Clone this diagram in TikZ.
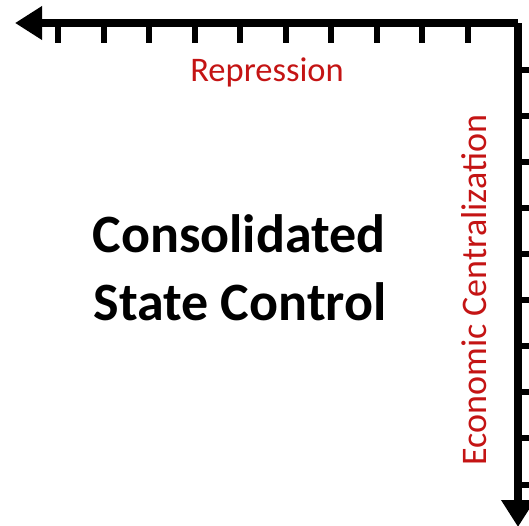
\documentclass[tikz,border=0pt]{standalone}
\usepackage{fontspec}
\setmainfont{Carlito}
\usetikzlibrary{arrows.meta}
\definecolor{axred}{RGB}{196,20,20}
\tikzset{
  axis/.style={line width=8pt, line join=miter, -{Triangle[length=27pt,width=32pt]}},
  tickmark/.style={line width=6pt},
  axlabel/.style={text=axred, inner sep=0pt},
  title/.style={font=\bfseries\fontsize{54}{68}\selectfont, inner sep=0pt, anchor=base}
}
\begin{document}
\begin{tikzpicture}[x=1pt,y=-1pt]
\useasboundingbox (0,0) rectangle (529,525);
\coordinate (tipL) at (15,23);
\coordinate (corner) at (518,23);
\coordinate (tipB) at (518,527);
\draw[axis] (corner) -- (tipL);
\draw[axis] (corner) -- (tipB);
\foreach \x in {58,103.5,149,194.5,240,285.5,331,376.5,422,467.5}
  \draw[tickmark] (\x,23) -- (\x,43);
\foreach \y in {70,116,162,208,254,300,346,392,438,485}
  \draw[tickmark] (518,\y) -- (535,\y);
\node[axlabel, font=\fontsize{34.5}{40}\selectfont, anchor=base] (rep) at (267,81) {Repression};
\node[axlabel, font=\fontsize{36}{42}\selectfont, rotate=90, anchor=base] (eco) at (486,290) {Economic Centralization};
\node[title] (main1) at (239,252) {Consolidated};
\node[title] (main2) at (240,320) {State Control};
\end{tikzpicture}
\end{document}
